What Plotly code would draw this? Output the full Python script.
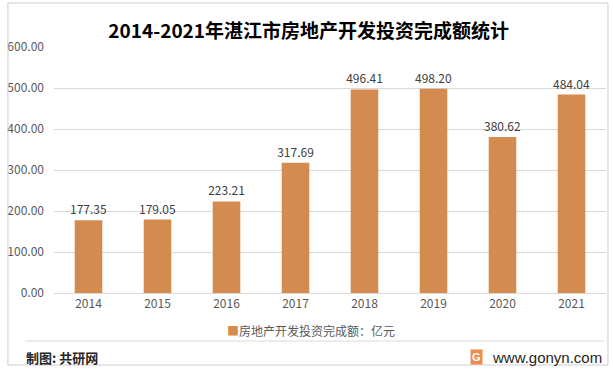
import plotly.graph_objects as go

years = ["2014", "2015", "2016", "2017", "2018", "2019", "2020", "2021"]
values = [177.35, 179.05, 223.21, 317.69, 496.41, 498.20, 380.62, 484.04]
tick_vals = [0, 100, 200, 300, 400, 500, 600]
tick_text = ["0.00", "100.00", "200.00", "300.00", "400.00", "500.00", "600.00"]
series_name = "房地产开发投资完成额：亿元"
title = "2014-2021年湛江市房地产开发投资完成额统计"
source_text = "制图: 共研网"
site_text = "www.gonyn.com"
bar_color = "#D38B4F"

font_fam = "Microsoft YaHei, Noto Sans CJK SC, sans-serif"

W, H = 613, 372
ML, MR, MT, MB = 49, 7, 47, 79
PW, PH = W - ML - MR, H - MT - MB


def px(x):
    return (x - ML) / PW


def py(y):
    return (H - MB - y) / PH


fig = go.Figure()
fig.add_trace(go.Bar(
    x=years, y=values, name=series_name,
    marker=dict(color=bar_color, line=dict(width=0)),
    width=0.4,
    text=[f"{v:.2f}" for v in values],
    textposition="outside",
    constraintext="none",
    textfont=dict(size=12, color="#404040"),
    cliponaxis=False,
    showlegend=False,
))

fig.update_layout(
    width=W, height=H,
    margin=dict(l=ML, r=MR, t=MT, b=MB),
    paper_bgcolor="white", plot_bgcolor="white",
    font=dict(family=font_fam, color="#595959", size=12),
    title=dict(text="<b>" + title + "</b>", x=px(306), xref="paper", xanchor="center",
               y=1 - 31 / H, yanchor="middle",
               font=dict(size=19, color="#000000", family=font_fam)),
    showlegend=False,
    xaxis=dict(showgrid=False, showline=True, linecolor="#D9D9D9", ticks="",
               tickfont=dict(size=12, color="#595959"), range=[-0.5, 7.5]),
    yaxis=dict(range=[0, 600], tickvals=tick_vals, ticktext=tick_text,
               showgrid=True, gridcolor="#D9D9D9", gridwidth=1, zeroline=False,
               showline=False, ticks="",
               tickfont=dict(size=12, color="#595959"), ticklabelstandoff=9),
)

# outer border
fig.add_shape(type="rect", xref="paper", yref="paper",
              x0=px(2.5), x1=px(608), y0=py(365), y1=py(3),
              line=dict(color="#CFCFCF", width=1))
# footer separator
fig.add_shape(type="line", xref="paper", yref="paper",
              x0=px(20), x1=px(604), y0=py(341), y1=py(341),
              line=dict(color="#D9D9D9", width=1))

# legend (drawn as text)
fig.add_annotation(text=f"<span style='color:{bar_color}'>■</span>" + series_name,
                   xref="paper", yref="paper", x=px(308), xanchor="center",
                   y=py(330), yanchor="middle", showarrow=False,
                   font=dict(size=12, color="#595959"))

fig.add_annotation(text="<b>" + source_text + "</b>", xref="paper", yref="paper",
                   x=px(19), xanchor="left", y=py(357), yanchor="middle",
                   showarrow=False, font=dict(size=13, color="#262626"))
fig.add_annotation(text="<b>G</b>", xref="paper", yref="paper",
                   x=px(475), xanchor="center", y=py(357), yanchor="middle",
                   showarrow=False, bgcolor="#F08A4B",
                   font=dict(size=11, color="white", family="Arial, Liberation Sans, sans-serif"))
fig.add_annotation(text=site_text, xref="paper", yref="paper",
                   x=px(604), xanchor="right", y=py(357), yanchor="middle",
                   showarrow=False, font=dict(size=15, color="#262626", family="Arial, Liberation Sans, sans-serif"))

fig.write_html("out.html", config={"displayModeBar": False},
               post_script="document.body.style.margin='0';")
